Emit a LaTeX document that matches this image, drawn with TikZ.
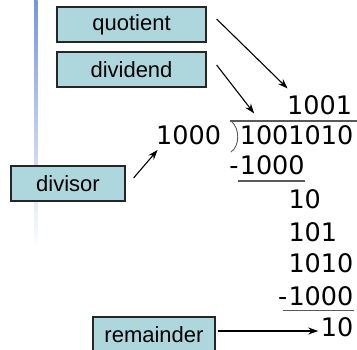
\documentclass[tikz,border=0pt]{standalone}
\usepackage{fontspec}
\newfontfamily\lblfont{Liberation Sans}
\newfontfamily\numfont{DejaVu Sans}
\usetikzlibrary{arrows.meta, calc}
\definecolor{boxfill}{RGB}{174,214,221}
\definecolor{barblue}{RGB}{118,150,218}

\begin{document}
\begin{tikzpicture}[x=1pt, y=-1pt, line width=1.2pt]
    \tikzset{lbl/.style={rectangle, draw=black!85, fill=boxfill, minimum height=35pt,
                         inner sep=0pt, font=\lblfont\fontsize{22}{25}\selectfont},
             num/.style={inner sep=0pt, font=\numfont\fontsize{25.5}{30}\selectfont},
             arr/.style={-{Stealth[length=10pt, width=7pt]}, line width=1.1pt},
             bar/.style={draw=black!65, line width=1.2pt}}
    \useasboundingbox (0,0) rectangle (357,350);
    \shade[top color=barblue, bottom color=white] (34,0) rectangle (37.5,250);
    % label boxes
    \node[lbl, minimum width=149pt] (qbox) at (131.5,24.5) {quotient};
    \node[lbl, minimum width=149pt] (dbox) at (131.5,69.5) {dividend};
    \node[lbl, minimum width=114pt] (vbox) at (68,183.5) {divisor};
    \node[lbl, minimum width=122pt] (rbox) at (154,334.5) {remainder};
    % the division
    \node[num, anchor=base east] (quo) at (352.7,115) {1001};
    \node[num, anchor=base east] (dvs) at (221.7,145) {1000};
    \node[num, anchor=base west] (dvd) at (239.2,145) {1001010};
    \node[num, anchor=base west] (sub1) at (239.2,175) {1000};
    \node[num, anchor=base east] (m1) at (sub1.base west) {-};
    \foreach \v/\y in {10/209, 101/241.5, 1010/272.5}
      \node[num, anchor=base west] (p\v) at (287.9,\y) {\v};
    \node[num, anchor=base west] (sub2) at (287.9,305.5) {1000};
    \node[num, anchor=base east] (m2) at (sub2.base west) {-};
    \node[num, anchor=base west] (rem) at (320.3,336.5) {10};
    % bracket and rules
    \draw[bar] (230,121) -- (357,121);
    \draw[bar, line width=0.9pt] (231,121) .. controls (240,128) and (240,146) .. (231,152);
    \draw[bar] ($(sub1.base west)+(-1,6)$) -- ($(sub1.base east)+(0,6)$);
    \draw[bar] ($(sub2.base west)+(-5,5)$) -- ($(sub2.base east)+(0,5)$);
    % connectors
    \draw[arr] ([shift={(10,-5.5)}]qbox.east) -- ([shift={(1,-7)}]quo.north west);
    \draw[arr] ([shift={(10,-4.5)}]dbox.east) -- ([shift={(15,-12)}]dvd.north west);
    \draw[arr] ([shift={(8,-5.5)}]vbox.east) -- ([shift={(2,4)}]dvs.south west);
    \draw[arr] ([shift={(2,-3.5)}]rbox.east) -- ([shift={(-2,-3.5)}]rbox.east -| rem.west);
\end{tikzpicture}
\end{document}
